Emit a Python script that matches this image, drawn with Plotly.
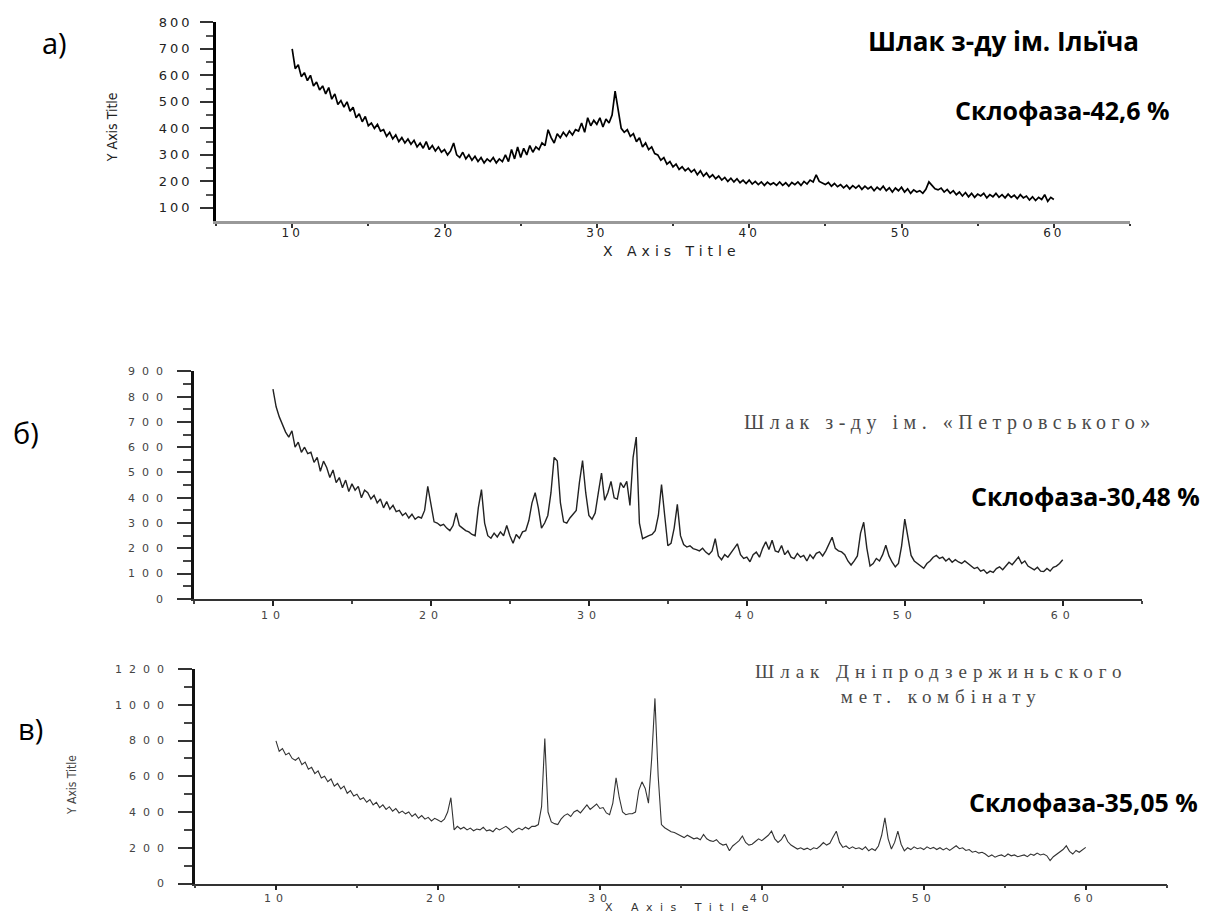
import plotly.graph_objects as go

# 2-theta scan grid (degrees), step 0.2 from 10 to 60
two_theta = [round(10 + 0.2 * i, 1) for i in range(251)]

# Panel а) – Шлак з-ду ім. Ільїча
ilyicha = [
    700, 625, 640, 595, 610, 580, 600, 560, 575, 545,
    560, 530, 554, 510, 530, 490, 505, 480, 500, 465,
    480, 440, 455, 425, 445, 410, 420, 400, 415, 390,
    395, 370, 385, 360, 375, 350, 365, 345, 360, 340,
    355, 330, 345, 325, 350, 320, 335, 315, 330, 310,
    320, 300, 315, 345, 300, 290, 310, 285, 300, 280,
    295, 275, 290, 270, 285, 275, 290, 270, 285, 275,
    300, 275, 320, 285, 330, 290, 325, 300, 335, 310,
    330, 320, 345, 335, 395, 365, 345, 380, 365, 385,
    370, 390, 375, 395, 390, 420, 385, 440, 410, 430,
    415, 440, 405, 435, 420, 450, 540, 470, 400, 385,
    395, 370, 380, 350, 365, 330, 345, 320, 330, 305,
    300, 280, 290, 265, 275, 255, 265, 245, 255, 240,
    250, 235, 245, 225, 240, 220, 232, 215, 225, 210,
    220, 205, 215, 200, 212, 198, 210, 195, 205, 192,
    205, 190, 200, 188, 198, 185, 197, 188, 195, 185,
    198, 185, 195, 182, 196, 188, 198, 185, 200, 190,
    205, 198, 225, 200, 195, 188, 196, 182, 192, 180,
    188, 176, 186, 172, 184, 175, 185, 170, 182, 172,
    180, 165, 178, 168, 182, 165, 176, 160, 175, 165,
    178, 160, 172, 155, 168, 160, 165, 155, 170, 198,
    185, 172, 168, 175, 160, 170, 155, 165, 150, 160,
    145, 158, 142, 155, 140, 152, 145, 155, 138, 150,
    142, 155, 140, 150, 138, 152, 140, 148, 135, 150,
    138, 145, 130, 142, 128, 140, 132, 150, 125, 140,
    132,
]

# Panel б) – Шлак з-ду ім. «Петровського»
petrovskogo = [
    830, 760, 720, 690, 660, 640, 665, 600, 620, 580,
    600, 575, 580, 540, 560, 505, 545, 520, 480, 510,
    460, 480, 440, 470, 425, 455, 430, 445, 400, 430,
    420, 395, 410, 380, 395, 360, 385, 355, 370, 345,
    350, 330, 340, 320, 335, 315, 325, 320, 350, 445,
    370, 305, 300, 290, 295, 280, 270, 290, 340, 290,
    280, 270, 265, 255, 250, 360, 432, 300, 250, 240,
    260, 245, 265, 250, 290, 250, 220, 255, 240, 265,
    270, 310, 380, 420, 360, 280, 300, 330, 420, 560,
    545, 380, 305, 300, 320, 335, 350, 460, 547, 420,
    330, 315, 340, 420, 498, 390, 420, 465, 400, 395,
    460, 440, 465, 370, 560, 640, 300, 238, 245, 250,
    255, 270, 330, 452, 330, 210, 220, 280, 374, 250,
    215, 205, 210, 199, 195, 190, 200, 185, 175, 190,
    238, 170, 155, 175, 165, 185, 200, 218, 175, 160,
    165, 147, 175, 185, 165, 200, 226, 195, 232, 190,
    185, 211, 175, 190, 165, 159, 180, 165, 172, 150,
    175, 160, 180, 186, 170, 190, 215, 244, 200, 190,
    186, 175, 150, 134, 150, 170, 260, 303, 200, 130,
    140, 160, 150, 175, 212, 170, 145, 127, 140, 210,
    316, 250, 172, 150, 140, 130, 121, 140, 150, 165,
    172, 160, 165, 150, 160, 145, 155, 146, 140, 150,
    140, 130, 120, 125, 110, 115, 101, 110, 105, 120,
    127, 115, 130, 145, 135, 150, 166, 140, 150, 130,
    121, 115, 125, 110, 108, 120, 110, 125, 130, 140,
    155,
]

# Panel в) – Шлак Дніпродзержиньского мет. комбінату
dniprodz = [
    798, 740, 755, 720, 730, 700, 690, 705, 665, 680,
    640, 650, 615, 630, 590, 600, 570, 585, 545, 560,
    530, 545, 505, 520, 490, 500, 470, 480, 455, 470,
    440, 455, 425, 440, 415, 430, 405, 420, 395, 405,
    390, 400, 375, 390, 365, 380, 360, 370, 350, 365,
    355, 345, 360, 400, 480, 300, 320, 305, 315, 300,
    310, 295, 305, 300, 315, 295, 300, 290, 310, 300,
    310, 320, 305, 285, 300, 310, 300, 315, 305, 320,
    320, 330, 430, 811, 400, 345, 335, 330, 360, 380,
    390, 375, 400, 410, 395, 420, 440, 415, 430, 445,
    420, 425, 395, 385, 450, 591, 480, 400, 385, 390,
    390, 400, 520, 569, 532, 450, 700, 1036, 600, 330,
    312, 300, 290, 285, 275, 265, 257, 270, 260, 250,
    255, 245, 275, 250, 240, 235, 245, 225, 215, 220,
    183, 210, 225, 240, 266, 230, 215, 220, 235, 250,
    240, 255, 270, 293, 250, 230, 245, 275, 235, 215,
    205, 193, 200, 190, 198, 188, 200, 195, 210, 229,
    215, 225, 260, 293, 230, 202, 210, 195, 205, 195,
    200, 190, 205, 183, 195, 185, 210, 270, 367, 250,
    193, 230, 293, 220, 183, 200, 190, 205, 195, 200,
    190, 205, 195, 202, 190, 200, 188, 198, 185, 200,
    211, 195, 200, 185, 190, 175, 180, 170, 175, 165,
    150, 160, 147, 155, 160, 150, 165, 155, 160, 150,
    156, 160, 150, 165, 158, 170, 160, 165, 155, 128,
    150, 165, 180, 190, 211, 180, 165, 185, 175, 190,
    202,
]

x_ticks = [10, 20, 30, 40, 50, 60]
x_minor = [5, 15, 25, 35, 45, 55, 65]
ya_ticks = [100, 200, 300, 400, 500, 600, 700, 800]
ya_minor = [150, 250, 350, 450, 550, 650, 750]
yb_ticks = [0, 100, 200, 300, 400, 500, 600, 700, 800, 900]
yb_minor = [50, 150, 250, 350, 450, 550, 650, 750, 850]
yc_ticks = [0, 200, 400, 600, 800, 1000, 1200]
yc_minor = [100, 300, 500, 700, 900, 1100]

W, H = 1211, 923


def px(v):
    return v / W


def py(v):
    return 1 - v / H


def ls(text, spacing):
    return '<span style="letter-spacing:%spx">%s</span>' % (spacing, text)


fig = go.Figure()
fig.add_trace(go.Scatter(x=two_theta, y=ilyicha, mode="lines",
                         line=dict(color="#000000", width=1.7), xaxis="x", yaxis="y"))
fig.add_trace(go.Scatter(x=two_theta, y=petrovskogo, mode="lines",
                         line=dict(color="#222222", width=1.4), xaxis="x2", yaxis="y2"))
fig.add_trace(go.Scatter(x=two_theta, y=dniprodz, mode="lines",
                         line=dict(color="#333333", width=1.1), xaxis="x3", yaxis="y3"))

common_x = dict(range=[5, 65], showgrid=False, zeroline=False, showline=True,
                ticks="outside", ticklen=5, tickwidth=1.5, tickmode="array",
                tickvals=x_ticks, fixedrange=True)

fig.update_layout(
    width=W, height=H, autosize=False,
    margin=dict(l=0, r=0, t=0, b=0),
    paper_bgcolor="white", plot_bgcolor="white", showlegend=False,
    xaxis=dict(common_x, domain=[px(216), px(1130)], anchor="y",
               linecolor="#999999", linewidth=2.5, tickcolor="#333333", ticklen=4,
               ticktext=[ls(v, 3) for v in x_ticks],
               tickfont=dict(family="DejaVu Sans", size=12, color="#222222"),
               ticklabelstandoff=-5,
               minor=dict(tickvals=x_minor, ticklen=2, ticks="outside", tickcolor="#333333")),
    yaxis=dict(domain=[py(217.5), py(15.5)], range=[50, 800], anchor="x",
               showgrid=False, zeroline=False, showline=True, linecolor="#000000",
               linewidth=2.5, ticks="outside", ticklen=13, tickwidth=1.5, tickcolor="#333333",
               tickmode="array", tickvals=ya_ticks, ticktext=[ls(v, 3) for v in ya_ticks],
               tickfont=dict(family="DejaVu Sans", size=13, color="#222222"),
               ticklabelstandoff=5,
               minor=dict(tickvals=ya_minor, ticklen=7, ticks="outside", tickcolor="#555555"),
               fixedrange=True),
    xaxis2=dict(common_x, domain=[px(194), px(1141.7)], anchor="y2",
                linecolor="#333333", linewidth=1.5, tickcolor="#222222",
                ticktext=[ls(v, 5) for v in x_ticks],
                tickfont=dict(family="DejaVu Sans", size=11, color="#444444"),
                minor=dict(tickvals=x_minor, ticklen=3, ticks="outside", tickcolor="#444444")),
    yaxis2=dict(domain=[py(601), py(370)], range=[0, 900], anchor="x2",
                showgrid=False, zeroline=False, showline=True, linecolor="#111111",
                linewidth=2.5, ticks="outside", ticklen=14, tickwidth=1.5, tickcolor="#333333",
                tickmode="array", tickvals=yb_ticks, ticktext=[ls(v, 7) for v in yb_ticks],
                tickfont=dict(family="DejaVu Sans", size=11, color="#444444"),
                ticklabelstandoff=5,
                minor=dict(tickvals=yb_minor, ticklen=8, ticks="outside", tickcolor="#444444"),
                fixedrange=True),
    xaxis3=dict(common_x, domain=[px(195), px(1166.7)], anchor="y3",
                linecolor="#333333", linewidth=1.5, tickcolor="#222222",
                ticktext=[ls(v, 5) for v in x_ticks],
                tickfont=dict(family="DejaVu Sans", size=11, color="#444444"),
                ticklabelstandoff=-1,
                minor=dict(tickvals=x_minor, ticklen=3, ticks="outside", tickcolor="#444444")),
    yaxis3=dict(domain=[py(890), py(672.3)], range=[0, 1200], anchor="x3",
                showgrid=False, zeroline=False, showline=True, linecolor="#111111",
                linewidth=2.5, ticks="outside", ticklen=14, tickwidth=1.5, tickcolor="#333333",
                tickmode="array", tickvals=yc_ticks, ticktext=[ls(v, 7) for v in yc_ticks],
                tickfont=dict(family="DejaVu Sans", size=11, color="#444444"),
                ticklabelstandoff=5,
                minor=dict(tickvals=yc_minor, ticklen=8, ticks="outside", tickcolor="#444444"),
                fixedrange=True),
)

sans = "Open Sans"
serif = "Liberation Serif"
ann = []


def add(text, x, y, family, size, color="#000000", bold=False, angle=0, yanchor="middle"):
    ann.append(dict(text=text, x=px(x), y=py(y), xref="paper", yref="paper",
                    xanchor="center", yanchor=yanchor, showarrow=False, textangle=angle,
                    font=dict(family=family, size=size, color=color,
                              weight=700 if bold else 400)))


add("а)", 54, 36, sans, 29)
add("б)", 26, 432, sans, 29)
add("в)", 30, 733, sans, 29)
add("Шлак з-ду ім. Ільїча", 1003, 35, sans, 26, bold=True)
add("Склофаза-42,6 %", 1062, 105, sans, 25, bold=True)
add(ls("Шлак з-ду ім. «Петровського»", 5.5), 950, 422, serif, 20, color="#4a4a4a")
add("Склофаза-30,48 %", 1085, 497, sans, 25, bold=True)
add(ls("Шлак Дніпродзержиньского", 6) + "<br>" + ls("мет. комбінату", 6),
    941, 687, serif, 19, color="#4a4a4a")
add("Склофаза-35,05 %", 1083, 807, sans, 25, bold=True)
add(ls("X Axis Title", 5), 672, 248, "DejaVu Sans", 14, color="#222222")
add("Y Axis Title", 112, 122, "DejaVu Sans Condensed, Liberation Sans, sans-serif", 14,
    color="#222222", angle=-90)
add("Y Axis Title", 72, 790, "DejaVu Sans Condensed, Liberation Sans, sans-serif", 12,
    color="#444444", angle=-90)
add(ls("X Axis Title", 7.5), 680, 923, "DejaVu Sans", 11, color="#333333", yanchor="bottom")

fig.update_layout(annotations=ann)
fig.write_html("out.html")
